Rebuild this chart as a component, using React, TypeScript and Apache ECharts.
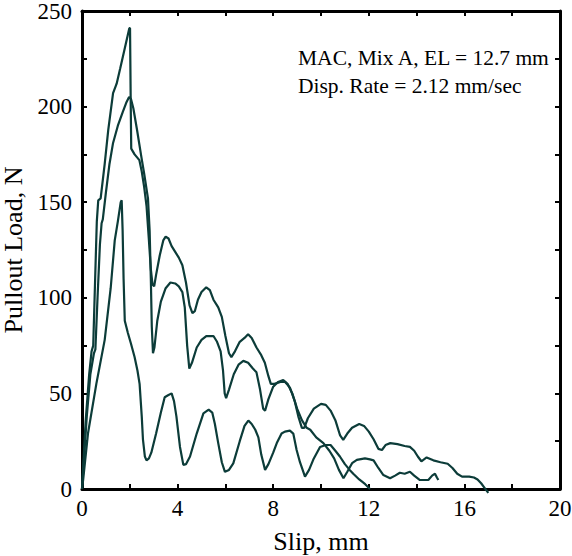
import React, { useEffect, useRef } from "react";
import * as echarts from "echarts";

// Curve reaching ~241 N (longest tail, ends near 17 mm)
const slipA = [0, 0.15, 0.3, 0.4, 0.47, 0.55, 0.62, 0.68, 0.78, 0.95, 1.1, 1.3, 1.45, 1.6, 1.8, 1.98, 2.01, 2.04, 2.06, 2.2, 2.4, 2.5, 2.6, 2.7, 2.8, 2.88, 2.95, 3.02, 3.1, 3.25, 3.4, 3.5, 3.62, 3.75, 3.9, 4.05, 4.2, 4.35, 4.5, 4.62, 4.72, 4.85, 5.0, 5.2, 5.35, 5.5, 5.7, 5.85, 6.0, 6.15, 6.25, 6.4, 6.6, 6.8, 6.95, 7.1, 7.3, 7.5, 7.65, 7.8, 7.9, 8.05, 8.3, 8.5, 8.7, 8.9, 9.05, 9.2, 9.3, 9.45, 9.7, 10.0, 10.2, 10.4, 10.6, 10.8, 10.93, 11.1, 11.3, 11.6, 11.8, 12.0, 12.2, 12.4, 12.55, 12.7, 12.9, 13.2, 13.5, 13.72, 13.9, 14.05, 14.2, 14.42, 14.7, 15.0, 15.3, 15.5, 15.7, 15.9, 16.2, 16.4, 16.55, 16.7, 16.85, 17.0];
const loadA = [0, 35, 60, 72, 75, 110, 140, 151, 152, 170, 188, 207, 212, 220, 231, 241, 241, 200, 178, 175, 172, 166, 158, 148, 130, 115, 107, 106, 112, 122, 130, 132, 131, 127, 124, 121, 117, 108, 96, 92, 93, 99, 103, 105.5, 104, 99, 95, 90, 80, 71, 69, 72, 77, 79, 81, 79, 74, 70, 66, 59, 55, 55, 56, 56, 53, 46, 38, 32, 32, 37, 42, 44.5, 44, 41, 36, 28, 25.7, 29, 32, 34, 33, 30, 26, 21, 20.4, 23, 24, 23.5, 22.5, 22, 20, 17, 14.5, 16.5, 15, 14, 13.2, 11, 8, 6.5, 6.5, 6, 5, 3, 0.5, -2];

// Curve reaching ~205 N (ends near 14.9 mm)
const slipB = [0, 0.2, 0.35, 0.5, 0.56, 0.65, 0.75, 0.82, 0.87, 1.0, 1.15, 1.3, 1.5, 1.7, 1.85, 1.97, 2.05, 2.15, 2.3, 2.48, 2.6, 2.76, 2.83, 2.88, 2.92, 2.97, 3.03, 3.15, 3.3, 3.5, 3.7, 3.9, 4.05, 4.2, 4.3, 4.4, 4.49, 4.6, 4.8, 5.0, 5.2, 5.5, 5.65, 5.8, 5.9, 5.97, 6.03, 6.15, 6.35, 6.55, 6.75, 6.95, 7.15, 7.3, 7.45, 7.58, 7.66, 7.8, 8.0, 8.2, 8.42, 8.6, 8.8, 9.0, 9.2, 9.4, 9.55, 9.8, 10.1, 10.35, 10.55, 10.75, 10.94, 11.1, 11.3, 11.5, 11.84, 12.05, 12.2, 12.4, 12.61, 12.89, 13.1, 13.3, 13.5, 13.72, 13.9, 14.14, 14.49, 14.65, 14.77, 14.85, 14.91];
const loadB = [0, 38, 60, 71, 73, 100, 128, 139, 141, 155, 170, 181, 190, 197, 202, 205, 204, 199, 188, 174, 165, 152, 135, 110, 85, 71, 74, 88, 98, 105, 108, 107.5, 106, 103, 95, 75, 63, 66, 74, 78, 80, 80, 77, 72, 62, 50, 47.5, 52, 60, 65, 67, 66, 63, 61, 52, 42, 41, 47, 53.5, 56, 57, 55, 50, 42, 36, 32, 31, 27, 24, 20, 16, 10, 5.6, 9, 13.5, 15.2, 16, 15.5, 15, 11, 7.3, 5.6, 7, 8.5, 8, 9, 7, 4.7, 4.7, 7, 8, 6, 4.7];

// Curve reaching ~151 N (ends near 12 mm)
const slipC = [0, 0.05, 0.25, 0.6, 0.95, 1.2, 1.37, 1.5, 1.62, 1.66, 1.7, 1.74, 1.79, 1.92, 2.05, 2.2, 2.32, 2.41, 2.5, 2.55, 2.63, 2.7, 2.8, 2.9, 3.1, 3.3, 3.46, 3.6, 3.75, 3.85, 3.95, 4.1, 4.24, 4.35, 4.52, 4.8, 5.08, 5.3, 5.45, 5.56, 5.7, 5.85, 5.98, 6.15, 6.33, 6.6, 6.8, 6.96, 7.1, 7.25, 7.38, 7.5, 7.66, 7.8, 8.0, 8.15, 8.35, 8.49, 8.7, 8.84, 8.98, 9.12, 9.33, 9.5, 9.7, 9.96, 10.2, 10.4, 10.6, 10.79, 11.0, 11.2, 11.35, 11.6, 11.85, 12.05];
const loadC = [0, 5, 29, 55, 78, 105, 130, 140, 150, 151, 135, 110, 88, 81.6, 76, 69, 62, 55, 38, 26, 17, 15, 16, 19, 29, 40, 48, 49, 50, 46, 38, 22, 12.6, 13, 17, 29, 39.6, 41.5, 40, 34, 24, 14, 9, 10, 13.4, 25, 33, 35.8, 34, 31, 27, 18, 10, 13, 19, 24, 29, 30, 30.5, 29, 20.4, 14, 6.5, 10, 16, 22, 23, 23, 20, 17, 13, 10, 8, 5, 2.5, 0];

const annotationLines = ["MAC, Mix A, EL = 12.7 mm", "Disp. Rate = 2.12 mm/sec"];
const xLabelStep = 4;
const yLabelStep = 50;

const FONT = '"Liberation Serif", "Times New Roman", serif';
const LINE_COLOR = "#0c3c39";

const zip = (xs: number[], ys: number[]) => xs.map((x, i) => [x, ys[i]]);

export default function App() {
  const ref = useRef<HTMLDivElement>(null);
  useEffect(() => {
    const chart = echarts.init(ref.current!, null, { renderer: "svg" });
    const axisLine = { show: true, onZero: false, lineStyle: { color: "#000", width: 3 } };
    const axisTick = { show: true, inside: true, length: 5, lineStyle: { color: "#000", width: 2 } };
    const baseX = {
      type: "value" as const,
      min: 0,
      max: 20,
      interval: 2,
      axisLine,
      axisTick,
      splitLine: { show: false },
    };
    const baseY = {
      type: "value" as const,
      min: 0,
      max: 250,
      interval: 25,
      axisLine,
      axisTick,
      splitLine: { show: false },
    };
    const mkSeries = (xs: number[], ys: number[]) => ({
      type: "line" as const,
      data: zip(xs, ys),
      showSymbol: false,
      symbol: "none",
      clip: false,
      lineStyle: { color: LINE_COLOR, width: 2.2 },
      xAxisIndex: 0,
      yAxisIndex: 0,
    });
    chart.setOption({
      animation: false,
      backgroundColor: "#fff",
      textStyle: { fontFamily: FONT },
      grid: { left: 82, right: 12, top: 11, bottom: 67, containLabel: false, outerBoundsMode: "none" },
      xAxis: [
        {
          ...baseX,
          position: "bottom",
          name: "Slip, mm",
          nameLocation: "middle",
          nameGap: 39,
          nameTextStyle: { fontFamily: FONT, fontSize: 26, color: "#000" },
          axisLabel: {
            fontFamily: FONT,
            fontSize: 23,
            color: "#000",
            margin: 8,
            formatter: (v: number) => (v % xLabelStep === 0 ? String(v) : ""),
          },
        },
        { ...baseX, position: "top", axisLabel: { show: false } },
      ],
      yAxis: [
        {
          ...baseY,
          position: "left",
          name: "Pullout Load, N",
          nameLocation: "middle",
          nameGap: 46,
          nameRotate: 90,
          nameTextStyle: { fontFamily: FONT, fontSize: 26, color: "#000" },
          axisLabel: {
            fontFamily: FONT,
            fontSize: 23,
            color: "#000",
            margin: 10,
            formatter: (v: number) => (v % yLabelStep === 0 ? String(v) : ""),
          },
        },
        { ...baseY, position: "right", axisLabel: { show: false } },
      ],
      graphic: annotationLines.map((t, i) => ({
        type: "text",
        left: 298,
        top: 47 + i * 28,
        style: { text: t, fontFamily: FONT, fontSize: 21.5, fill: "#000" },
      })),
      series: [mkSeries(slipA, loadA), mkSeries(slipB, loadB), mkSeries(slipC, loadC)],
    });
    return () => chart.dispose();
  }, []);
  return <div ref={ref} style={{ position: "absolute", left: 0, top: 0, width: 572, height: 556 }} />;
}
